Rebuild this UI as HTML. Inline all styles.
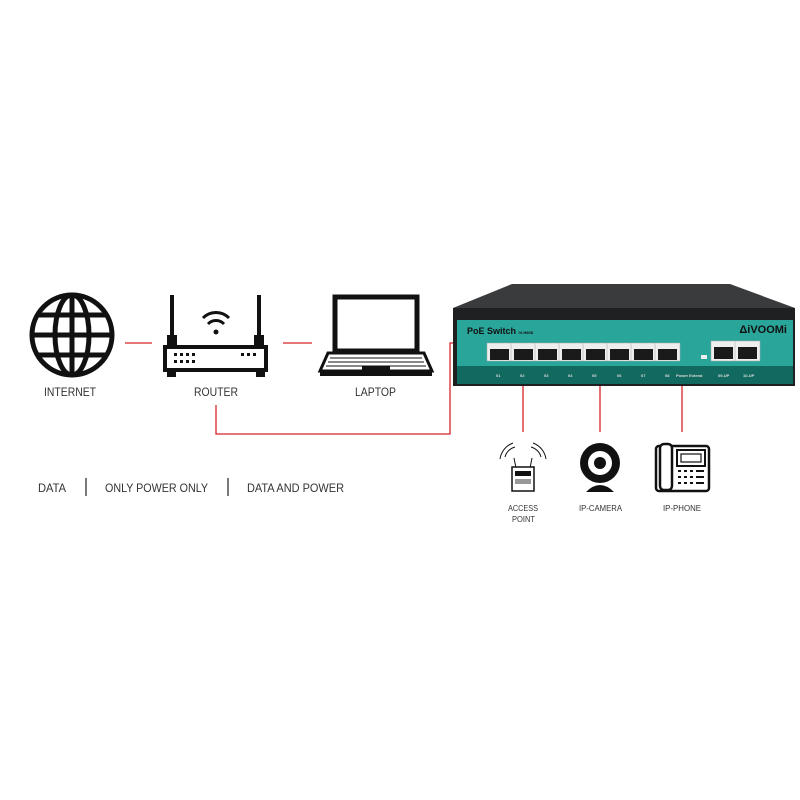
<!DOCTYPE html>
<html><head><style>
body{margin:0;background:#fff;}
svg{display:block;}
text{font-family:"Liberation Sans",sans-serif;fill:#333;}
</style></head><body>
<svg width="800" height="800" viewBox="0 0 800 800">
<g stroke="#d8232a" stroke-width="1.3" fill="none">
<line x1="125" y1="343" x2="152" y2="343"/>
<line x1="283" y1="343" x2="312" y2="343"/>
<polyline points="216,405 216,434 450,434 450,343 456,343"/>
<line x1="523" y1="385" x2="523" y2="432"/>
<line x1="600" y1="385" x2="600" y2="432"/>
<line x1="682" y1="385" x2="682" y2="432"/>
</g>
<g stroke="#111" stroke-width="5" fill="none">
<circle cx="72" cy="335" r="40"/>
<ellipse cx="72" cy="335" rx="17" ry="40"/>
<line x1="72" y1="295" x2="72" y2="375"/>
<line x1="32" y1="335" x2="112" y2="335"/>
<line x1="38" y1="315" x2="106" y2="315"/>
<line x1="38" y1="355" x2="106" y2="355"/>
</g>
<g fill="#111">
<rect x="170" y="295" width="4" height="50"/>
<rect x="257" y="295" width="4" height="50"/>
<rect x="167" y="335" width="10" height="12"/>
<rect x="254" y="335" width="10" height="12"/>
<rect x="167" y="368" width="9" height="9"/>
<rect x="256" y="368" width="9" height="9"/>
</g>
<rect x="165" y="347" width="101" height="23" fill="#fff" stroke="#111" stroke-width="4"/>
<g fill="#111">
<rect x="174" y="353" width="3" height="3"/><rect x="180" y="353" width="3" height="3"/><rect x="186" y="353" width="3" height="3"/><rect x="192" y="353" width="3" height="3"/>
<rect x="174" y="360" width="3" height="3"/><rect x="180" y="360" width="3" height="3"/><rect x="186" y="360" width="3" height="3"/><rect x="192" y="360" width="3" height="3"/>
<rect x="241" y="353" width="3" height="3"/><rect x="247" y="353" width="3" height="3"/><rect x="253" y="353" width="3" height="3"/>
<circle cx="216" cy="332" r="2.5"/>
</g>
<g stroke="#111" stroke-width="3" fill="none">
<path d="M203 318 A18 18 0 0 1 229 318"/>
<path d="M208 324 A11 11 0 0 1 224 324"/>
</g>
<rect x="335" y="297" width="82" height="54" fill="#fff" stroke="#111" stroke-width="5"/>
<path d="M328 353 L424 353 L432 371 L320 371 Z" fill="#fff" stroke="#111" stroke-width="3"/>
<rect x="320" y="371" width="112" height="5" fill="#111"/>
<g stroke="#111" stroke-width="1">
<line x1="330" y1="358" x2="422" y2="358"/><line x1="328" y1="362" x2="424" y2="362"/><line x1="326" y1="366" x2="426" y2="366"/>
</g>
<rect x="362" y="366" width="28" height="4" fill="#111"/>
<text x="44" y="396" font-size="12" textLength="52" lengthAdjust="spacingAndGlyphs">INTERNET</text>
<text x="194" y="396" font-size="12" textLength="44" lengthAdjust="spacingAndGlyphs">ROUTER</text>
<text x="355" y="396" font-size="12" textLength="41" lengthAdjust="spacingAndGlyphs">LAPTOP</text>
<path d="M512 284 L730 284 L795 308 L453 308 Z" fill="#3a3b3d"/>
<rect x="453" y="308" width="342" height="78" fill="#1f2021"/>
<rect x="457" y="320" width="336" height="46" fill="#2aa59a"/>
<rect x="457" y="366" width="336" height="18" fill="#11695f"/>
<text x="467" y="334" font-size="9" font-weight="bold" style="fill:#111">PoE Switch <tspan font-size="4">IV-H808</tspan></text>
<text x="787" y="333" font-size="11" font-weight="bold" text-anchor="end" style="fill:#111">ΔiVOOMi</text>
<g fill="#eee" stroke="#aaa" stroke-width="0.5">
<rect x="487" y="343" width="25" height="18"/><rect x="511" y="343" width="25" height="18"/><rect x="535" y="343" width="25" height="18"/><rect x="559" y="343" width="25" height="18"/><rect x="583" y="343" width="25" height="18"/><rect x="607" y="343" width="25" height="18"/><rect x="631" y="343" width="25" height="18"/><rect x="655" y="343" width="25" height="18"/>
<rect x="711" y="341" width="25" height="20"/><rect x="735" y="341" width="25" height="20"/>
</g>
<g fill="#1a1a1a">
<rect x="490" y="349" width="19" height="11"/><rect x="514" y="349" width="19" height="11"/><rect x="538" y="349" width="19" height="11"/><rect x="562" y="349" width="19" height="11"/><rect x="586" y="349" width="19" height="11"/><rect x="610" y="349" width="19" height="11"/><rect x="634" y="349" width="19" height="11"/><rect x="658" y="349" width="19" height="11"/>
<rect x="714" y="347" width="19" height="12"/><rect x="738" y="347" width="19" height="12"/>
</g>
<rect x="701" y="355" width="6" height="4" fill="#eee"/>
<g font-size="4" font-weight="bold">
<text x="496" y="377" style="fill:#ddd">01</text><text x="520" y="377" style="fill:#ddd">02</text><text x="544" y="377" style="fill:#ddd">03</text><text x="568" y="377" style="fill:#ddd">04</text><text x="592" y="377" style="fill:#ddd">05</text><text x="617" y="377" style="fill:#ddd">06</text><text x="641" y="377" style="fill:#ddd">07</text><text x="665" y="377" style="fill:#ddd">08</text><text x="676" y="377" style="fill:#ddd">Power Extend</text><text x="718" y="377" style="fill:#ddd">09-UP</text><text x="743" y="377" style="fill:#ddd">10-UP</text>
</g>
<g stroke="#111" stroke-width="1" fill="none">
<path d="M505 457 A14 14 0 0 1 515 447"/><path d="M500 459 A20 20 0 0 1 513 443"/>
<path d="M541 457 A14 14 0 0 0 531 447"/><path d="M546 459 A20 20 0 0 0 533 443"/>
<line x1="516" y1="468" x2="514" y2="458"/><line x1="530" y1="468" x2="532" y2="458"/>
</g>
<rect x="512" y="467" width="22" height="24" fill="#fff" stroke="#111" stroke-width="1.5"/>
<rect x="515" y="471" width="16" height="5" fill="#111"/>
<rect x="515" y="479" width="16" height="5" fill="#999"/>
<circle cx="600" cy="463" r="20" fill="#111"/>
<circle cx="600" cy="463" r="12" fill="#fff"/>
<circle cx="600" cy="463" r="6" fill="#111"/>
<path d="M586 492 Q600 478 614 492 Z" fill="#111"/>
<rect x="656" y="446" width="53" height="45" rx="3" fill="#fff" stroke="#111" stroke-width="2.5"/>
<rect x="660" y="444" width="12" height="46" rx="4" fill="#fff" stroke="#111" stroke-width="2.5"/>
<rect x="677" y="450" width="28" height="16" fill="#fff" stroke="#111" stroke-width="2"/>
<rect x="681" y="454" width="20" height="8" fill="#fff" stroke="#111" stroke-width="1.2"/>
<g fill="#111">
<rect x="678" y="470" width="3" height="2"/><rect x="684" y="470" width="3" height="2"/><rect x="690" y="470" width="3" height="2"/><rect x="696" y="470" width="8" height="2"/>
<rect x="678" y="476" width="3" height="2"/><rect x="684" y="476" width="3" height="2"/><rect x="690" y="476" width="3" height="2"/><rect x="696" y="476" width="8" height="2"/>
<rect x="678" y="482" width="3" height="2"/><rect x="684" y="482" width="3" height="2"/><rect x="690" y="482" width="3" height="2"/><rect x="696" y="482" width="8" height="2"/>
</g>
<text x="508" y="511" font-size="8.5" textLength="30" lengthAdjust="spacingAndGlyphs">ACCESS</text>
<text x="512" y="522" font-size="8.5" textLength="23" lengthAdjust="spacingAndGlyphs">POINT</text>
<text x="579" y="511" font-size="8.5" textLength="43" lengthAdjust="spacingAndGlyphs">IP-CAMERA</text>
<text x="663" y="511" font-size="8.5" textLength="38" lengthAdjust="spacingAndGlyphs">IP-PHONE</text>
<text x="38" y="492" font-size="12" textLength="28" lengthAdjust="spacingAndGlyphs">DATA</text>
<line x1="86" y1="478" x2="86" y2="496" stroke="#333" stroke-width="1.3"/>
<text x="105" y="492" font-size="12" textLength="103" lengthAdjust="spacingAndGlyphs">ONLY POWER ONLY</text>
<line x1="228" y1="478" x2="228" y2="496" stroke="#333" stroke-width="1.3"/>
<text x="247" y="492" font-size="12" textLength="97" lengthAdjust="spacingAndGlyphs">DATA AND POWER</text>
</svg>
</body></html>
